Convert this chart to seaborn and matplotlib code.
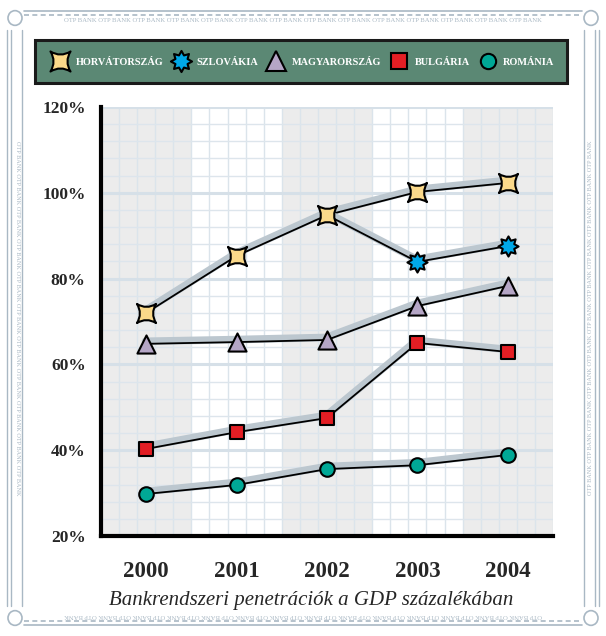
import numpy as np
import pandas as pd
import matplotlib
matplotlib.use("Agg")
import matplotlib.pyplot as plt
import matplotlib.patheffects as pe
from matplotlib.path import Path
from matplotlib.lines import Line2D
from matplotlib.patches import Rectangle, Circle
import seaborn as sns

# adatok (a GDP százalékában)
years = ["2000", "2001", "2002", "2003", "2004"]
horvatorszag = [72.0, 85.3, 94.8, 100.2, 102.3]
szlovakia = [None, None, 94.8, 83.9, 87.6]
magyarorszag = [64.8, 65.2, 65.7, 73.6, 78.3]
bulgaria = [40.3, 44.2, 47.5, 65.0, 62.9]
romania = [29.8, 31.9, 35.6, 36.5, 38.9]

labels = ["HORVÁTORSZÁG", "SZLOVÁKIA", "MAGYARORSZÁG", "BULGÁRIA", "ROMÁNIA"]
title = "Bankrendszeri penetrációk a GDP százalékában"
yticks = [20, 40, 60, 80, 100, 120]

series = [horvatorszag, szlovakia, magyarorszag, bulgaria, romania]
rows = []
for name, vals in zip(labels, series):
    for i, v in enumerate(vals):
        if v is not None:
            rows.append({"orszag": name, "x": i, "ev": years[i], "ertek": v})
df = pd.DataFrame(rows)

# markerek
k = 0.38
star4 = Path(
    [(-1, -1), (0, -k), (1, -1), (k, 0), (1, 1), (0, k), (-1, 1), (-k, 0), (-1, -1), (-1, -1)],
    [Path.MOVETO] + [Path.CURVE3] * 8 + [Path.CLOSEPOLY],
)
star8 = Path.unit_regular_star(8, 0.62)
markers = {
    "HORVÁTORSZÁG": (star4, "#fbd98a", 190),
    "SZLOVÁKIA": (star8, "#00a8e8", 210),
    "MAGYARORSZÁG": ("^", "#b5a6c6", 170),
    "BULGÁRIA": ("s", "#e31e24", 110),
    "ROMÁNIA": ("o", "#00a896", 110),
}

sns.set_style("white")
plt.rcParams["font.family"] = ["Liberation Serif", "DejaVu Serif"]

W, H = 606, 636
fig = plt.figure(figsize=(W / 100, H / 100), dpi=100)
ax = fig.add_axes([101 / W, 1 - 536 / H, 452 / W, 429 / H])

# háttér sávok és rács
for i in range(5):
    ax.axvspan(i - 0.5, i + 0.5, color="#ececec" if i % 2 == 0 else "white", zorder=0, lw=0)
for xv in np.arange(-0.5, 4.51, 0.2):
    ax.axvline(xv, color="#dbe4eb", lw=1, zorder=1)
for yv in range(20, 121, 4):
    ax.axhline(yv, color="#d6e0e8" if yv % 20 == 0 else "#dde5ec",
               lw=2.2 if yv % 20 == 0 else 1, zorder=1)

shadow = [pe.Stroke(linewidth=5.5, foreground="#bcc7cf", offset=(-0.5, 1.8)), pe.Normal()]
for name in labels:
    d = df[df["orszag"] == name]
    sns.lineplot(data=d, x="x", y="ertek", color="black", lw=1.3, ax=ax,
                 legend=False, path_effects=shadow, zorder=3)
# Szlovákia 2002-es pontja csak a vonalhoz kell
for name in labels[::-1]:
    d = df[df["orszag"] == name]
    if name == "SZLOVÁKIA":
        d = d[d["x"] != 2]
    m, c, s = markers[name]
    sns.scatterplot(data=d, x="x", y="ertek", marker=m, s=s, color=c,
                    edgecolor="black", linewidth=1.5, ax=ax, legend=False, zorder=5)

ax.set_xlim(-0.5, 4.5)
ax.set_ylim(20, 120)
ax.set_xlabel("")
ax.set_ylabel("")
for sp in ["top", "right"]:
    ax.spines[sp].set_visible(False)
for sp in ["left", "bottom"]:
    ax.spines[sp].set_linewidth(3)
    ax.spines[sp].set_color("black")
    ax.spines[sp].set_zorder(6)

ax.set_yticks(yticks)
ax.set_yticklabels([f"{v}%" for v in yticks], fontsize=12.5, fontweight="bold")
ax.tick_params(axis="y", direction="out", length=9, width=3, pad=2, color="black")
ax.set_xticks(np.arange(-0.5, 4.51, 1))
ax.set_xticklabels([])
ax.tick_params(axis="x", which="major", direction="out", length=14, width=2.5, color="black")
ax.set_xticks(range(5), minor=True)
ax.set_xticklabels(years, minor=True, fontsize=16.5, fontweight="bold")
ax.tick_params(axis="x", which="minor", length=0, pad=18)

fig.text(311 / W, 1 - 600 / H, title, ha="center", va="center",
         fontsize=15, style="italic")

# jelmagyarázat
fig.add_artist(Rectangle((35 / W, 1 - 83 / H), 532 / W, 43 / H, transform=fig.transFigure,
                         facecolor="#5b8874", edgecolor="#1a1a1a", lw=2.2, zorder=0))
handles = []
for name in labels:
    m, c, s = markers[name]
    handles.append(Line2D([], [], ls="none", marker=m, markersize=np.sqrt(s) * 1.05,
                          markerfacecolor=c, markeredgecolor="black", markeredgewidth=1.5))
leg = fig.legend(handles, labels, ncol=5, loc="center", bbox_to_anchor=(304 / W, 1 - 62 / H),
                 frameon=False, handletextpad=0.85, columnspacing=1.1, handlelength=1.3,
                 borderpad=0, borderaxespad=0,
                 prop={"family": "Liberation Serif", "weight": "bold", "size": 7.4})
for t in leg.get_texts():
    t.set_color("white")

# keret díszítés
bc = "#a9b8c4"
for y in [11, 15, 621, 625]:
    fig.add_artist(Line2D([24 / W, 582 / W], [1 - y / H, 1 - y / H], color=bc, lw=1.2,
                          ls="-" if y in (11, 625) else (0, (3, 2))))
for x in [7, 11, 22, 584, 595, 599]:
    fig.add_artist(Line2D([x / W, x / W], [1 - 30 / H, 1 - 606 / H], color=bc, lw=1))
otp = " ".join(["OTP BANK"] * 14)
fig.text(303 / W, 1 - 20 / H, otp, ha="center", va="center", fontsize=4.8, color=bc)
fig.text(303 / W, 1 - 616 / H, otp, ha="center", va="center", fontsize=4.8, color=bc, rotation=180)
otpv = " ".join(["OTP BANK"] * 11)
fig.text(17 / W, 0.5, otpv, ha="center", va="center", fontsize=4.5, color=bc, rotation=270)
fig.text(590 / W, 0.5, otpv, ha="center", va="center", fontsize=4.5, color=bc, rotation=90)
for cx, cy in [(15, 18), (591, 18), (15, 618), (591, 618)]:
    fig.add_artist(Circle((cx / W, 1 - cy / H), 7 / W, transform=fig.transFigure,
                          fill=False, edgecolor=bc, lw=1.2))

fig.savefig("out.png", dpi=100)
